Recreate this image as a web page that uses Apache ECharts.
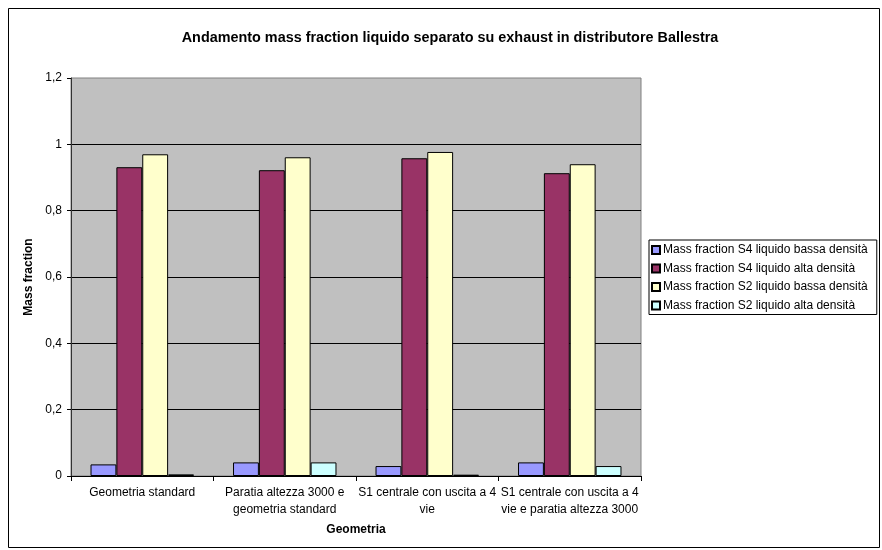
<!DOCTYPE html>
<html><head><meta charset="utf-8">
<script src="https://cdn.jsdelivr.net/npm/echarts@6/dist/echarts.min.js"></script>
<style>html,body{margin:0;padding:0;background:#fff}#c{width:882px;height:550px}</style>
</head><body><div id="c"></div>
<script>
var categories = ["Geometria standard", "Paratia altezza 3000 e\ngeometria standard", "S1 centrale con uscita a 4\nvie", "S1 centrale con uscita a 4\nvie e paratia altezza 3000"];
var seriesNames = ["Mass fraction S4 liquido bassa densità", "Mass fraction S4 liquido alta densità", "Mass fraction S2 liquido bassa densità", "Mass fraction S2 liquido alta densità"];
var s4Bassa = [0.035, 0.041, 0.030, 0.041];
var s4Alta = [0.931, 0.922, 0.958, 0.913];
var s2Bassa = [0.970, 0.961, 0.977, 0.940];
var s2Alta = [0.005, 0.041, 0.004, 0.030];
var yTicks = {min: 0, max: 1.2, step: 0.2};
var colors = ["#9999FF", "#993366", "#FFFFCC", "#CCFFFF"];
var values = [s4Bassa, s4Alta, s2Bassa, s2Alta];
var font = "Liberation Sans, Arial, sans-serif";

var chart = echarts.init(document.getElementById('c'), null, {renderer: 'canvas'});
chart.setOption({
  animation: false,
  textStyle: {fontFamily: font},
  title: {
    text: "Andamento mass fraction liquido separato su exhaust in distributore Ballestra",
    left: 445, top: 26, textAlign: 'center',
    textStyle: {fontFamily: font, fontSize: 14.4, fontWeight: 'bold', color: '#000'}
  },
  graphic: [{
    type: 'rect', shape: {x: 8.5, y: 8.5, width: 871, height: 539},
    style: {fill: 'none', stroke: '#000', lineWidth: 1}, silent: true
  }],
  legend: {
    orient: 'vertical', left: 649, top: 240,
    itemWidth: 8, itemHeight: 8, itemGap: 4.5,
    padding: [3, 9, 2, 2],
    borderColor: '#000', borderWidth: 1,
    icon: 'rect',
    textStyle: {fontFamily: font, fontSize: 12, lineHeight: 14, color: '#000', padding: [0, 0, 0, -2]},
    data: seriesNames
  },
  grid: {left: 71, right: 241, top: 78, bottom: 74, show: true, backgroundColor: '#C0C0C0', borderColor: '#808080', borderWidth: 1},
  xAxis: {
    type: 'category', data: categories,
    name: 'Geometria', nameLocation: 'middle', nameGap: 48,
    nameTextStyle: {fontFamily: font, fontSize: 12, fontWeight: 'bold', color: '#000'},
    axisLine: {lineStyle: {color: '#000'}},
    axisTick: {show: true, alignWithLabel: false, length: 5, lineStyle: {color: '#000'}},
    axisLabel: {fontFamily: font, fontSize: 12, color: '#000', margin: 8, lineHeight: 17, interval: 0}
  },
  yAxis: {
    type: 'value', min: yTicks.min, max: yTicks.max, interval: yTicks.step,
    name: 'Mass fraction', nameLocation: 'middle', nameGap: 29,
    nameTextStyle: {fontFamily: font, fontSize: 12, fontWeight: 'bold', color: '#000'},
    axisLine: {show: true, lineStyle: {color: '#333'}},
    axisTick: {show: true, length: 4, lineStyle: {color: '#000'}},
    axisLabel: {fontFamily: font, fontSize: 12, color: '#000', margin: 9,
      formatter: function (v) { return (Math.round(v * 10) / 10).toString().replace('.', ','); }},
    splitLine: {show: true, showMaxLine: false, lineStyle: {color: '#000', width: 1}}
  },
  series: seriesNames.map(function (n, i) {
    return {
      name: n, type: 'bar', data: values[i],
      barGap: '0%', barCategoryGap: '27.4%',
      itemStyle: {color: colors[i], borderColor: '#000', borderWidth: 1}
    };
  })
});
</script></body></html>
